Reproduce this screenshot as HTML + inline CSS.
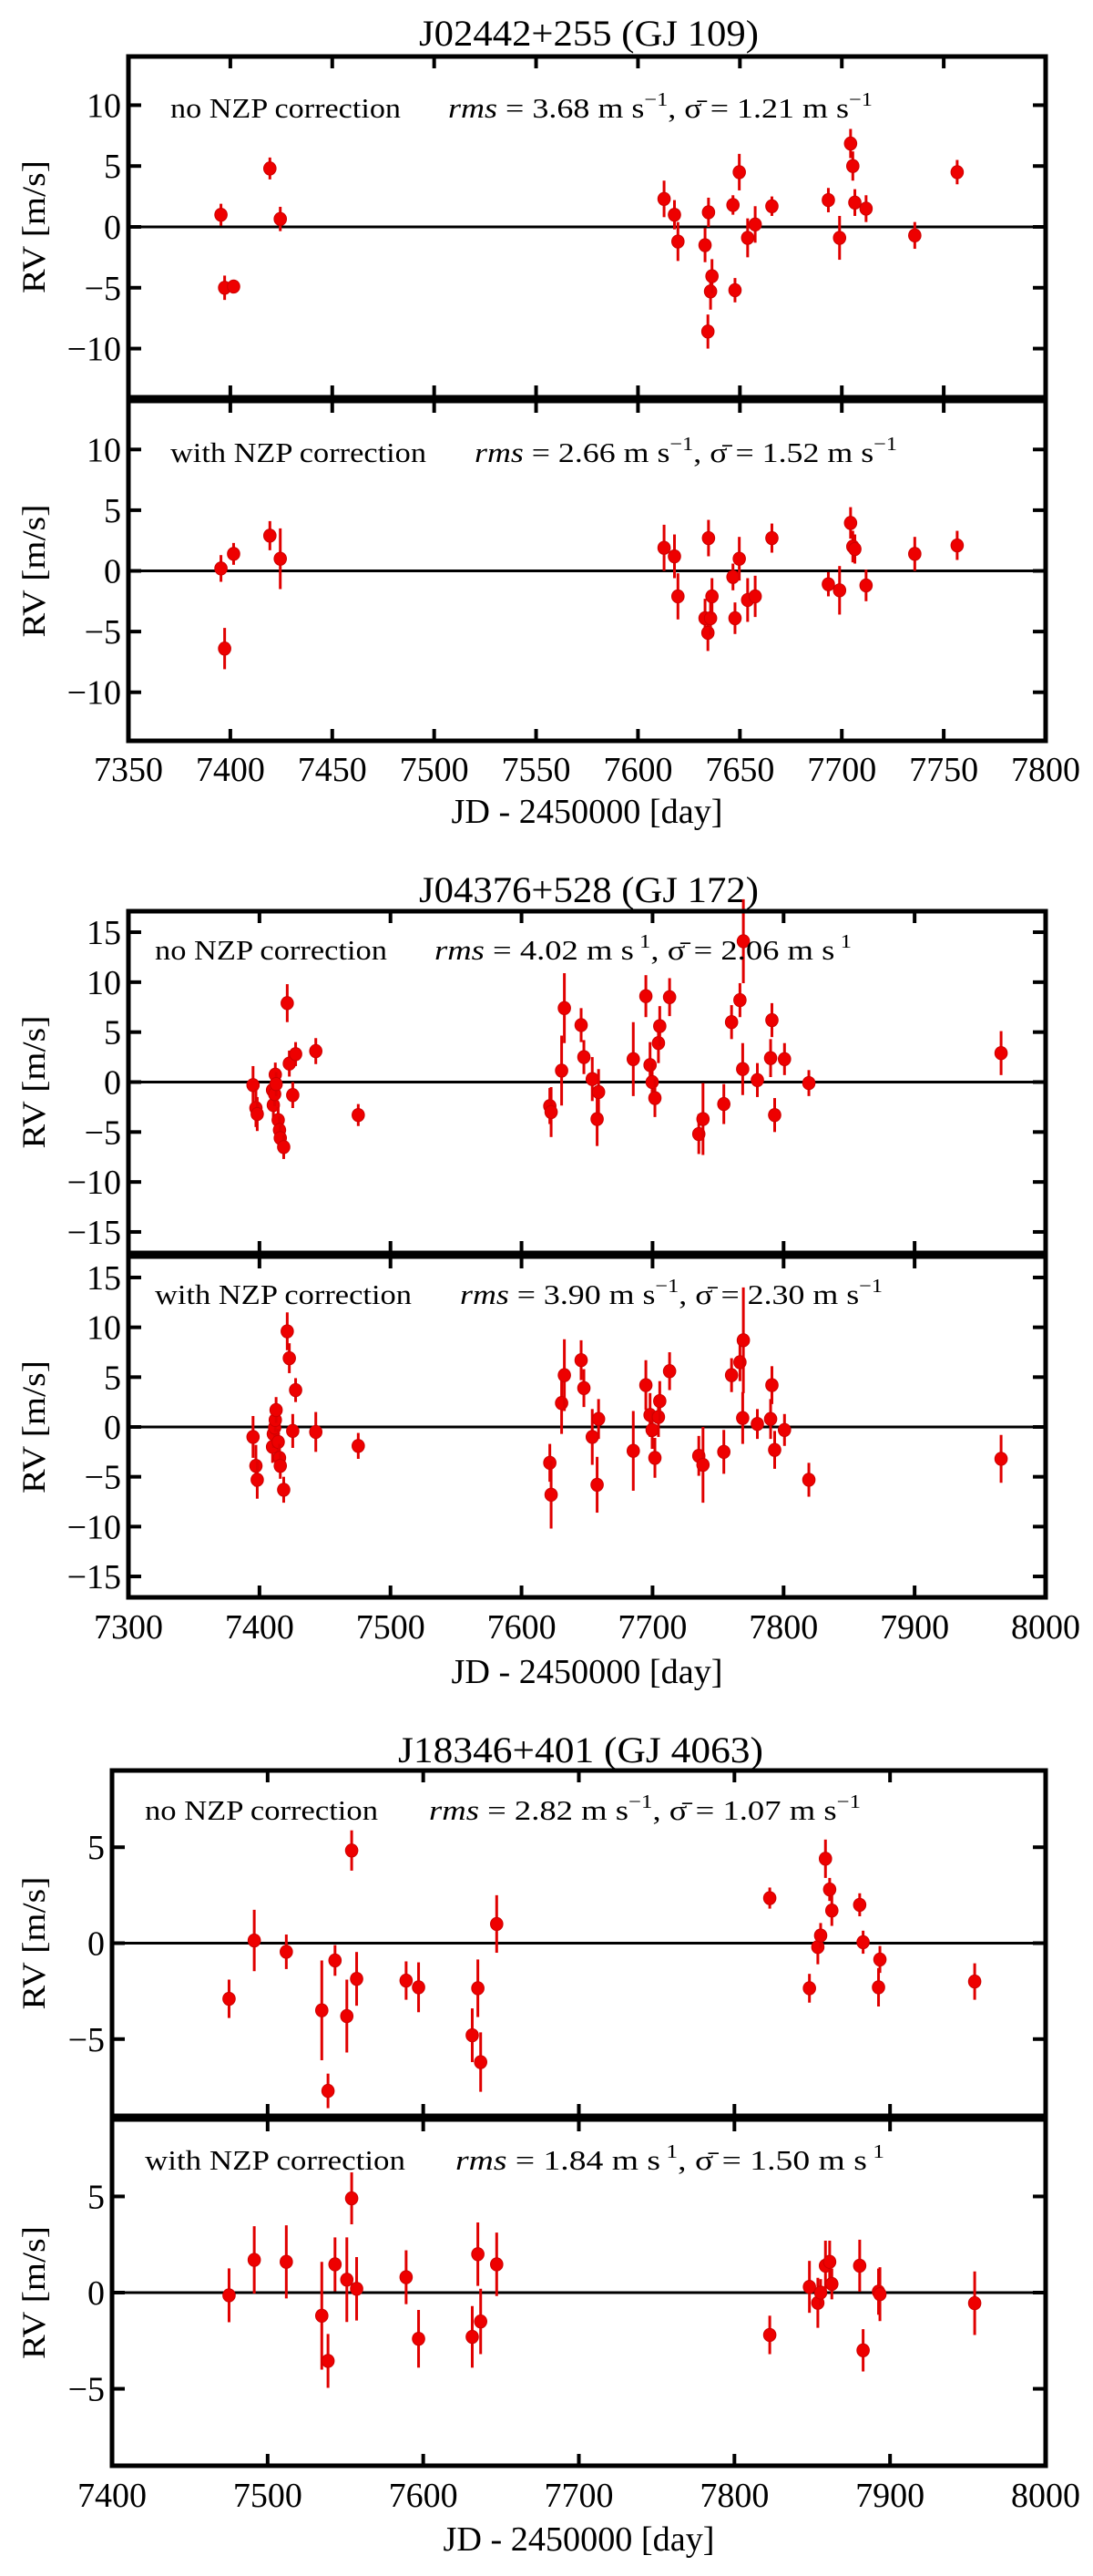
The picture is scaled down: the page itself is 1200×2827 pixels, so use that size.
<!DOCTYPE html>
<html><head><meta charset="utf-8"><title>RV NZP correction</title>
<style>
html,body{margin:0;padding:0;background:#fff;}
svg{display:block;font-family:"Liberation Serif",serif;}
</style></head>
<body>
<svg id="fig" width="1200" height="2827" viewBox="0 0 1200 2827" xmlns="http://www.w3.org/2000/svg"></svg>
<script>
// ---------- Star A: J02442+255 (GJ 109) ----------
const daysA = [7395.4,7397.2,7401.6,7419.4,7424.5,7612.8,7617.9,7619.6,7632.9,7634.6,7634.3,7635.6,7636.3,7646.6,7647.6,7649.7,7653.8,7657.5,7665.7,7693.4,7698.9,7704.3,7705.4,7706.4,7711.9,7735.8,7756.6];
const rvA1 = [1.0,-5.0,-4.9,4.8,0.65,2.3,1.0,-1.2,-1.5,1.2,-8.6,-5.3,-4.05,1.8,-5.2,4.5,-0.9,0.2,1.7,2.2,-0.9,6.85,5.0,2.0,1.5,-0.7,4.5];
const errA1 = [0.9,1.0,0.5,0.9,1.0,1.5,1.2,1.6,1.4,1.2,1.4,1.5,1.4,0.8,1.0,1.5,1.6,1.5,0.8,1.0,1.8,1.2,1.2,1.1,1.1,1.1,1.0];
const rvA2 = [0.2,-6.4,1.4,2.9,1.0,1.9,1.2,-2.1,-3.9,2.7,-5.1,-3.9,-2.1,-0.5,-3.9,1.0,-2.4,-2.1,2.7,-1.1,-1.6,3.95,2.0,1.8,-1.2,1.4,2.1];
const errA2 = [1.1,1.7,0.9,1.2,2.5,1.9,1.8,1.9,1.6,1.5,1.5,1.4,1.5,1.1,1.3,1.8,1.8,1.7,1.2,1.0,2.0,1.3,1.3,1.2,1.3,1.4,1.2];
const xTicksA = [7350,7400,7450,7500,7550,7600,7650,7700,7750,7800];
const yTicksA = [-10,-5,0,5,10];

// ---------- Star B: J04376+528 (GJ 172) ----------
const daysB = [7395.1,7397.3,7398.3,7410.0,7410.6,7411.6,7412.1,7412.7,7414.3,7415.3,7415.9,7418.5,7421.2,7422.8,7425.4,7427.6,7443.0,7475.4,7621.6,7622.6,7630.6,7632.7,7645.5,7647.6,7654.0,7657.7,7658.8,7685.3,7694.9,7698.1,7699.7,7701.8,7704.5,7705.5,7713.0,7735.3,7738.5,7754.4,7760.3,7766.7,7769.3,7768.8,7780.0,7790.1,7791.1,7793.2,7800.7,7819.3,7966.0];
const rvB1 = [-0.3,-2.6,-3.2,-0.8,-2.3,-1.2,0.75,-0.2,-3.8,-4.8,-5.6,-6.5,7.9,1.85,-1.3,2.8,3.1,-3.3,-2.4,-3.0,1.15,7.4,5.7,2.5,0.3,-3.7,-1.0,2.3,8.6,1.7,0.0,-1.6,3.9,5.6,8.5,-5.2,-3.7,-2.2,6.0,8.2,14.1,1.3,0.2,2.4,6.2,-3.3,2.3,-0.1,2.9];
const errB1 = [1.9,1.9,1.7,1.4,1.6,1.2,1.2,1.2,1.3,1.4,1.3,1.2,1.9,1.3,1.3,1.2,1.3,1.1,1.8,2.5,3.5,3.5,1.7,1.7,2.2,2.7,2.3,3.7,2.1,2.3,1.9,1.9,2.0,2.0,1.9,2.0,3.6,2.0,1.7,1.7,4.2,2.6,1.7,1.9,1.7,1.7,1.6,1.3,2.2];
const rvB2 = [-1.0,-3.9,-5.3,-2.0,-0.7,-0.06,0.7,1.7,-1.5,-3.1,-3.9,-6.3,9.6,6.9,-0.4,3.7,-0.5,-1.9,-3.6,-6.8,2.4,5.2,6.7,3.9,-1.0,-5.8,0.8,-2.4,4.2,1.2,-0.3,-3.1,1.0,2.6,5.6,-2.9,-3.8,-2.5,5.2,6.5,8.7,0.9,0.3,0.8,4.2,-2.3,-0.3,-5.3,-3.2];
const errB2 = [2.1,2.1,1.9,1.6,1.4,1.3,1.2,1.3,1.3,1.4,1.3,1.3,1.9,1.5,1.7,1.2,2.0,1.3,1.9,3.4,3.1,3.6,2.0,1.9,2.8,2.8,2.0,4.0,2.5,2.2,1.9,2.0,2.0,2.0,1.9,2.0,3.8,2.2,1.7,1.9,5.3,2.6,1.5,2.0,1.9,1.9,1.6,1.7,2.4];
const xTicksB = [7300,7400,7500,7600,7700,7800,7900,8000];
const yTicksB = [-15,-10,-5,0,5,10,15];

// ---------- Star C: J18346+401 (GJ 4063) ----------
const daysC = [7475.2,7491.4,7512.0,7534.8,7538.8,7543.3,7550.9,7554.0,7557.2,7589.0,7597.0,7631.5,7635.1,7636.9,7647.2,7822.7,7848.2,7853.6,7855.4,7858.5,7861.2,7862.6,7880.5,7882.7,7892.6,7893.5,7954.4];
const rvC1 = [-2.9,0.14,-0.45,-3.5,-7.7,-0.9,-3.8,4.83,-1.86,-1.95,-2.3,-4.8,-2.35,-6.2,1.0,2.35,-2.35,-0.2,0.4,4.4,2.8,1.7,2.0,0.05,-2.3,-0.85,-2.0];
const errC1 = [1.0,1.6,0.9,2.6,0.9,0.8,1.9,1.05,1.4,1.0,1.3,1.4,1.5,1.55,1.5,0.55,0.75,0.9,0.65,1.0,0.6,0.8,0.6,0.6,1.0,0.7,0.95];
const rvC2 = [-0.14,1.7,1.6,-1.2,-3.55,1.47,0.67,4.9,0.2,0.8,-2.4,-2.3,2.0,-1.5,1.47,-2.2,0.3,-0.53,0.0,1.4,1.6,0.45,1.4,-3.0,0.05,-0.08,-0.55];
const errC2 = [1.4,1.75,1.9,2.8,1.4,1.4,2.2,1.35,1.65,1.4,1.5,1.6,1.65,1.7,1.65,1.0,1.35,1.3,0.7,1.3,1.1,0.8,1.35,1.1,1.2,1.4,1.65];
const xTicksC = [7400,7500,7600,7700,7800,7900,8000];
const yTicksC = [-5,0,5];

const NS = "http://www.w3.org/2000/svg";
const svg = document.getElementById('fig');
function mk(tag, attrs, parent){
  const e = document.createElementNS(NS, tag);
  for (const k in attrs) e.setAttribute(k, attrs[k]);
  (parent||svg).appendChild(e);
  return e;
}

function drawPanel(cfg){
  const g = mk('g', {});
  
  
  const x0 = cfg.x0, x1 = cfg.x1, y0 = cfg.y0, y1 = cfg.y1;
  const sx = v => x0 + (v - cfg.xmin) / (cfg.xmax - cfg.xmin) * (x1 - x0);
  const sy = v => y1 - (v - cfg.ymin) / (cfg.ymax - cfg.ymin) * (y1 - y0);
  const zl = mk('line', {x1:x0, x2:x1, y1:sy(0), y2:sy(0), stroke:'#000', 'stroke-width':3}, g);
  
  
  for (let i = 0; i < cfg.days.length; i++){
    const px = sx(cfg.days[i]), py = sy(cfg.rv[i]);
    const eb = mk('line', {x1:px, x2:px, y1:sy(cfg.rv[i]+cfg.err[i]), y2:sy(cfg.rv[i]-cfg.err[i]), stroke:'#e00000', 'stroke-width':3}, g);
    
    
    const c = mk('ellipse', {cx:px, cy:py, rx:6.8, ry:7.2, fill:'#ee0000', stroke:'#cc0000', 'stroke-width':1}, g);
    
    
  }
  const fr = mk('rect', {x:x0, y:y0, width:x1-x0, height:y1-y0, fill:'none', stroke:'#000', 'stroke-width':5}, g);
  
  
  cfg.xticks.forEach(t => {
    const px = sx(t);
    if (px <= x0 + 2 || px >= x1 - 2) return;
    const a = mk('line', {x1:px, x2:px, y1:y0, y2:y0+13, stroke:'#000', 'stroke-width':4}, g);
    
    
    const b = mk('line', {x1:px, x2:px, y1:y1, y2:y1-13, stroke:'#000', 'stroke-width':4}, g);
    
    
  });
  cfg.yticks.forEach(t => {
    const py = sy(t);
    const a = mk('line', {x1:x0, x2:x0+14, y1:py, y2:py, stroke:'#000', 'stroke-width':4}, g);
    
    
    const b = mk('line', {x1:x1, x2:x1-14, y1:py, y2:py, stroke:'#000', 'stroke-width':4}, g);
    
    
    const lb = mk('text', {x:x0-8, y:py+13, 'text-anchor':'end', 'font-size':38, fill:'#000'}, g);
    
    
    lb.textContent = t < 0 ? '\u2212' + Math.abs(t) : String(t);
  });
  const yc = (y0 + y1) / 2;
  const yl = mk('text', {x:0, y:0, transform:`translate(49,${yc}) rotate(-90)`, 'text-anchor':'middle', 'font-size':36, textLength:146, lengthAdjust:'spacingAndGlyphs'}, g);
  
  
  yl.textContent = 'RV [m/s]';
  const t1 = mk('text', {x:cfg.lab[0], y:cfg.lab[2], 'font-size':31, textLength:cfg.lab[1]-cfg.lab[0], lengthAdjust:'spacingAndGlyphs'}, g);
  
  
  t1.textContent = cfg.labText;
  const t2 = mk('text', {x:cfg.rms[0], y:cfg.lab[2], 'font-size':31, textLength:cfg.rms[1]-cfg.rms[0], lengthAdjust:'spacingAndGlyphs'}, g);
  
  
  t2.innerHTML = `<tspan font-style="italic">rms</tspan> = ${cfg.rmsv} m s<tspan dy="-13" font-size="21">${cfg.sup}</tspan><tspan dy="13">, σ̄ = ${cfg.sig} m s</tspan><tspan dy="-13" font-size="21">${cfg.sup}</tspan>`;
  return {sx, sy};
}

function drawXAxisLabels(x0, x1, xmin, xmax, ticks, yLab, yTitle){
  const sx = v => x0 + (v - xmin) / (xmax - xmin) * (x1 - x0);
  ticks.forEach(t => {
    const l = mk('text', {x:sx(t), y:yLab+13, 'text-anchor':'middle', 'font-size':38});
    
    
    l.textContent = t;
  });
  const xt = mk('text', {x:(x0+x1)/2, y:yTitle+13, 'text-anchor':'middle', 'font-size':38, textLength:298, lengthAdjust:'spacingAndGlyphs'});
  
  
  xt.textContent = 'JD - 2450000 [day]';
}

function drawTitle(txt, x0, x1, yc){
  const t = mk('text', {x:(x0+x1)/2, y:yc+13, 'text-anchor':'middle', 'font-size':40, textLength:x1-x0, lengthAdjust:'spacingAndGlyphs'});
  
  
  t.textContent = txt;
}

drawTitle('J02442+255 (GJ 109)', 460, 833, 37);
drawPanel({name:'panel-a-no-nzp', x0:141, x1:1148, y0:62, y1:436, xmin:7350, xmax:7800, ymin:-14, ymax:14,
  days:daysA, rv:rvA1, err:errA1, xticks:xTicksA, yticks:yTicksA,
  labText:'no NZP correction', lab:[187,440,129], rms:[492,958], rmsv:'3.68', sig:'1.21', sup:'\u22121'});
drawPanel({name:'panel-a-with-nzp', x0:141, x1:1148, y0:440, y1:813, xmin:7350, xmax:7800, ymin:-14, ymax:14,
  days:daysA, rv:rvA2, err:errA2, xticks:xTicksA, yticks:yTicksA,
  labText:'with NZP correction', lab:[187,468,507], rms:[521,985], rmsv:'2.66', sig:'1.52', sup:'\u22121'});
drawXAxisLabels(141, 1148, 7350, 7800, xTicksA, 844, 890);

drawTitle('J04376+528 (GJ 172)', 460, 833, 977);
drawPanel({name:'panel-b-no-nzp', x0:141, x1:1148, y0:1000, y1:1375, xmin:7300, xmax:8000, ymin:-17.1, ymax:17.1,
  days:daysB, rv:rvB1, err:errB1, xticks:xTicksB, yticks:yTicksB,
  labText:'no NZP correction', lab:[170,425,1053], rms:[477,935], rmsv:'4.02', sig:'2.06', sup:' 1'});
drawPanel({name:'panel-b-with-nzp', x0:141, x1:1148, y0:1379, y1:1753, xmin:7300, xmax:8000, ymin:-17.1, ymax:17.1,
  days:daysB, rv:rvB2, err:errB2, xticks:xTicksB, yticks:yTicksB,
  labText:'with NZP correction', lab:[170,452,1431], rms:[505,969], rmsv:'3.90', sig:'2.30', sup:'\u22121'});
drawXAxisLabels(141, 1148, 7300, 8000, xTicksB, 1785, 1834);

drawTitle('J18346+401 (GJ 4063)', 437, 838, 1921);
drawPanel({name:'panel-c-no-nzp', x0:123, x1:1148, y0:1943, y1:2322, xmin:7400, xmax:8000, ymin:-9, ymax:9,
  days:daysC, rv:rvC1, err:errC1, xticks:xTicksC, yticks:yTicksC,
  labText:'no NZP correction', lab:[159,415,1997], rms:[471,945], rmsv:'2.82', sig:'1.07', sup:'\u22121'});
drawPanel({name:'panel-c-with-nzp', x0:123, x1:1148, y0:2326, y1:2706, xmin:7400, xmax:8000, ymin:-9, ymax:9,
  days:daysC, rv:rvC2, err:errC2, xticks:xTicksC, yticks:yTicksC,
  labText:'with NZP correction', lab:[159,445,2381], rms:[500,971], rmsv:'1.84', sig:'1.50', sup:' 1'});
drawXAxisLabels(123, 1148, 7400, 8000, xTicksC, 2738, 2786);
</script>
</body></html>
